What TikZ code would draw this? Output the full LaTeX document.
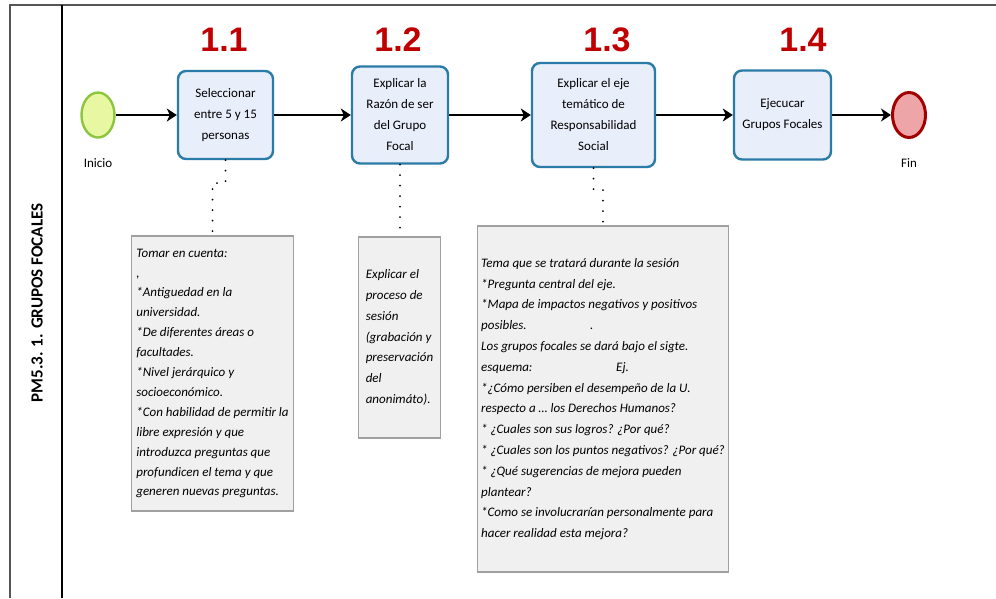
\documentclass[tikz,border=0pt]{standalone}
\usepackage{fontspec}
\setmainfont{Carlito}
\newfontfamily\numfont{Liberation Sans}
\usetikzlibrary{shapes.geometric,arrows.meta}

\definecolor{taskfill}{HTML}{E9EEFB}
\definecolor{taskline}{HTML}{2A7BA8}
\definecolor{startfill}{HTML}{E8F7A2}
\definecolor{startline}{HTML}{8CC63E}
\definecolor{endfill}{HTML}{EEA5A8}
\definecolor{endline}{HTML}{A30000}
\definecolor{notefill}{HTML}{F0F0F0}
\definecolor{noteline}{HTML}{A0A0A0}
\definecolor{numred}{HTML}{C00000}
\definecolor{framegray}{HTML}{555555}

\tikzstyle{task} = [rectangle, rounded corners=8pt, draw=taskline, fill=taskfill, line width=2.4pt, align=center, font=\fontsize{13}{21}\selectfont]
\tikzstyle{note} = [rectangle, draw=noteline, fill=notefill, line width=1.2pt, align=left, font=\fontsize{13}{20.8}\selectfont\itshape]
\tikzstyle{startevent} = [ellipse, draw=startline, fill=startfill, line width=2.4pt, minimum width=33pt, minimum height=45pt]
\tikzstyle{endevent} = [ellipse, draw=endline, fill=endfill, line width=3pt, minimum width=33pt, minimum height=45pt]
\tikzstyle{stepnum} = [font=\numfont\bfseries\fontsize{34}{34}\selectfont, text=numred]
\tikzstyle{eventname} = [font=\fontsize{13}{15}\selectfont]
\tikzstyle{flow} = [-{Stealth[length=10pt,width=13pt,inset=3pt]}, line width=1.4pt]
\tikzstyle{assoc} = [line width=2pt, dash pattern=on 0pt off 10.5pt, line cap=round]

\begin{document}
\begin{tikzpicture}[x=1pt, y=-1pt]
	\useasboundingbox (0,0) rectangle (996,598);
	\draw[line width=2pt, draw=framegray] (10,598) -- (10,5) -- (996,5);
	\draw[line width=1.6pt] (62,5) -- (62,598);
	\node[rotate=90, font=\bfseries\fontsize{17}{17}\selectfont] (lane) at (37,303) {PM5.3. 1. GRUPOS FOCALES};

	\node[startevent] (inicio) at (98,115) {};
	\node[eventname] (inicioname) at (98,163) {Inicio};
	\node[task, minimum width=95pt, minimum height=88pt] (t1) at (225.5,115) {Seleccionar\\entre 5 y 15\\personas};
	\node[task, minimum width=96pt, minimum height=97pt] (t2) at (400,115) {Explicar la\\Razón de ser\\del Grupo\\Focal};
	\node[task, minimum width=123pt, minimum height=104pt] (t3) at (593.5,115) {Explicar el eje\\temático de\\Responsabilidad\\Social};
	\node[task, minimum width=97pt, minimum height=89pt] (t4) at (782.5,115) {Ejecucar\\Grupos Focales};
	\node[endevent] (fin) at (909,115) {};
	\node[eventname] (finname) at (909,163) {Fin};

	\node[stepnum] (num1) at (224,40) {1.1};
	\node[stepnum] (num2) at (398,40) {1.2};
	\node[stepnum] (num3) at (607,40) {1.3};
	\node[stepnum] (num4) at (803,40) {1.4};

	\draw[flow] (inicio) -- (t1);
	\draw[flow] (t1) -- (t2);
	\draw[flow] (t2) -- (t3);
	\draw[flow] (t3) -- (t4);
	\draw[flow] (t4) -- (fin);

	\node[note, font=\fontsize{13}{19.9}\selectfont\itshape, minimum width=162pt, minimum height=275pt] (note1) at (212.5,373.5) {Tomar en cuenta:\\,\\*Antiguedad en la\\universidad.\\*De diferentes áreas o\\facultades.\\*Nivel jerárquico y\\socioeconómico.\\*Con habilidad de permitir la\\libre expresión y que\\introduzca preguntas que\\profundicen el tema y que\\generen nuevas preguntas.};
	\node[note, minimum width=82pt, minimum height=201pt] (note2) at (399.5,337.5) {Explicar el\\proceso de\\sesión\\(grabación y\\preservación\\del\\anonimáto).};
	\node[note, minimum width=249pt, minimum height=346pt] (note3) at (603,399) {Tema que se tratará durante la sesión\\*Pregunta central del eje.\\*Mapa de impactos negativos y positivos\\\makebox[109pt][l]{posibles.}.\\Los grupos focales se dará bajo el sigte.\\\makebox[135pt][l]{esquema:}Ej.\\*¿Cómo persiben el desempeño de la U.\\respecto a \ldots{} los Derechos Humanos?\\* ¿Cuales son sus logros? ¿Por qué?\\* ¿Cuales son los puntos negativos? ¿Por qué?\\* ¿Qué sugerencias de mejora pueden\\plantear?\\*Como se involucrarían personalmente para\\hacer realidad esta mejora?};

	\draw[assoc] (t1.south) -- ++(0,23) -| (note1.north);
	\draw[assoc] (t2.south) -- (t2.south |- note2.north);
	\draw[assoc] (t3.south) -- ++(0,22) -| (note3.north);
\end{tikzpicture}
\end{document}
